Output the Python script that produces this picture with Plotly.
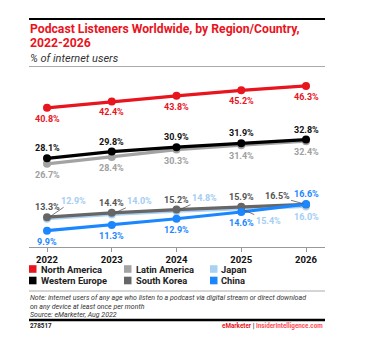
import plotly.graph_objects as go

years = [2022, 2023, 2024, 2025, 2026]
north_america = [40.8, 42.4, 43.8, 45.2, 46.3]
western_europe = [28.1, 29.8, 30.9, 31.9, 32.8]
latin_america = [26.7, 28.4, 30.3, 31.4, 32.4]
south_korea = [13.3, 14.4, 15.2, 15.9, 16.5]
japan = [12.9, 14.0, 14.8, 15.4, 16.0]
china = [9.9, 11.3, 12.9, 14.6, 16.6]
tick_labels = ["2022", "2023", "2024", "2025", "2026"]

W, H = 375, 345
ML, MR, MT, MB = 29, 50, 70, 98
PW, PH = W - ML - MR, H - MT - MB

def px(x):
    return (x - ML) / PW

def py(y):
    return (H - MB - y) / PH

FONT = "Roboto"
RED = "#e8141e"
BLACK = "#000000"
LGRAY = "#a3a3a3"
DGRAY = "#666666"
LBLUE = "#a9d1f5"
BLUE = "#1a87ff"

series = [
    ("Latin America", latin_america, LGRAY),
    ("Western Europe", western_europe, BLACK),
    ("North America", north_america, RED),
    ("Japan", japan, LBLUE),
    ("South Korea", south_korea, DGRAY),
    ("China", china, BLUE),
]

fig = go.Figure()
for name, vals, col in series:
    fig.add_trace(go.Scatter(
        x=years, y=vals, mode="lines+markers", name=name,
        line=dict(color=col, width=3.2),
        marker=dict(color=col, size=8),
        showlegend=False, hoverinfo="skip",
    ))

annotations = []

def lab(x, v, color, yshift=0, xshift=0, ax=None, ay=None):
    a = dict(x=x, y=v, xref="x", yref="y", text=f"{v:.1f}%",
             font=dict(family=FONT, size=9, color=color, weight="bold"))
    if ax is None:
        a.update(showarrow=False, xshift=xshift, yshift=yshift)
    else:
        a.update(showarrow=True, ax=ax, ay=ay, arrowhead=0, arrowwidth=0.8,
                 arrowcolor="#555555", standoff=3)
    annotations.append(a)

for x, v in zip(years, north_america):
    lab(x, v, RED, yshift=-11)
for x, v in zip(years, western_europe):
    lab(x, v, "#111111", yshift=10)
for x, v in zip(years, latin_america):
    lab(x, v, "#a0a0a0", yshift=-11)
for x, v in zip(years[:4], south_korea[:4]):
    lab(x, v, "#555555", yshift=10)
lab(years[4], south_korea[4], "#555555", ax=-29, ay=-8)
jp_off = [(26, -18), (28, -13), (28, -13), (27, 12)]
for (x, v), (ax, ay) in zip(zip(years[:4], japan[:4]), jp_off):
    lab(x, v, "#a3cdf3", ax=ax, ay=ay)
lab(years[4], japan[4], "#a3cdf3", yshift=-11)
for x, v in zip(years[:4], china[:4]):
    lab(x, v, BLUE, yshift=-11)
lab(years[4], china[4], BLUE, yshift=10)

def ptext(x, y, text, size, color, weight="normal", style="normal", xanchor="left"):
    annotations.append(dict(
        x=px(x), y=py(y), xref="paper", yref="paper", text=text, showarrow=False,
        xanchor=xanchor, yanchor="middle",
        font=dict(family=FONT, size=size, color=color, weight=weight, style=style),
    ))

ptext(28, 28.5, "Podcast Listeners Worldwide, by Region/Country,", 12.2, RED, weight="bold")
ptext(28, 43, "2022-2026", 12.2, RED, weight="bold")
ptext(28, 58.5, "% of internet users", 11, "#333333", style="italic")

legend_items = [
    ("North America", RED, 29, 269), ("Latin America", LGRAY, 124, 269), ("Japan", LBLUE, 210, 269),
    ("Western Europe", BLACK, 29, 280.5), ("South Korea", DGRAY, 124, 280.5), ("China", BLUE, 210, 280.5),
]
shapes = []
for name, col, lx, ly in legend_items:
    shapes.append(dict(type="rect", xref="paper", yref="paper",
                       x0=px(lx), x1=px(lx + 7.5), y0=py(ly - 3.8), y1=py(ly + 3.8),
                       fillcolor=col, line=dict(width=0)))
    ptext(lx + 9.5, ly, name, 9.3, "#222222", weight="bold")

ptext(28, 298, "Note: internet users of any age who listen to a podcast via digital stream or direct download", 7, "#333333", style="italic")
ptext(28, 306.5, "on any device at least once per month", 7, "#333333", style="italic")
ptext(28, 315, "Source: eMarketer, Aug 2022", 7, "#333333", style="italic")
ptext(28, 326, "278517", 6.3, "#222222", weight="bold")
ptext(325, 326, "<span style='color:#e8141e'>eMarketer</span> <span style='color:#222'>|</span> <span style='color:#ff4d55'>InsiderIntelligence.com</span>",
      6.3, "#222222", weight="bold", xanchor="right")

for y0, col, w in [(19, "#000000", 2), (66.5, "#aaaaaa", 1), (291, "#aaaaaa", 1), (320, "#000000", 2.5)]:
    shapes.append(dict(type="line", xref="paper", yref="paper", x0=px(29), x1=px(325),
                       y0=py(y0), y1=py(y0), line=dict(color=col, width=w)))

fig.update_layout(
    width=W, height=H,
    margin=dict(l=ML, r=MR, t=MT, b=MB),
    paper_bgcolor="white", plot_bgcolor="white",
    showlegend=False,
    annotations=annotations, shapes=shapes,
    xaxis=dict(range=[2021.722, 2026.293], tickvals=years, ticktext=tick_labels,
               showgrid=False, zeroline=False, showline=True, linecolor="#999999", linewidth=1,
               ticks="outside", ticklen=4, tickcolor="#999999",
               tickfont=dict(family=FONT, size=9.5, color="#111111", weight="bold"), fixedrange=True),
    yaxis=dict(range=[5.8, 50.3], showgrid=False, zeroline=False, showticklabels=False,
               showline=False, fixedrange=True),
)

fig.write_html("out.html", config={"displayModeBar": False})
